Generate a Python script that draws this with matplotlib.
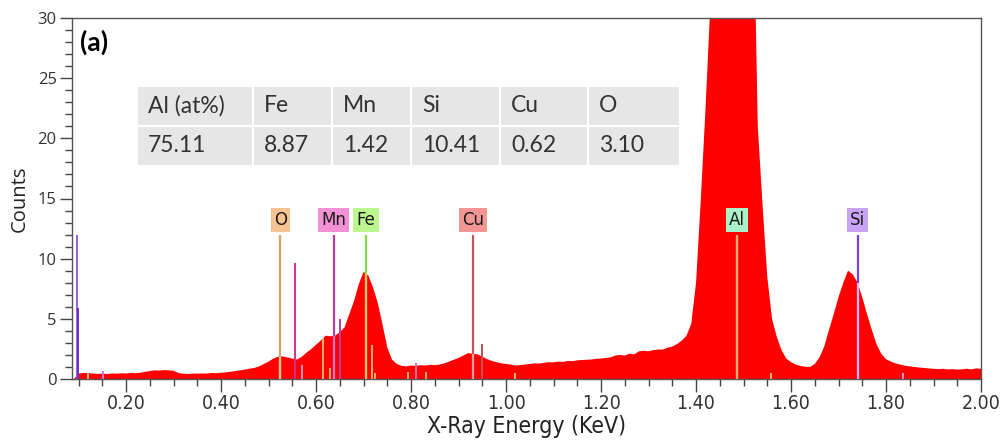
import numpy as np
import matplotlib
matplotlib.use("Agg")
import matplotlib.pyplot as plt
from matplotlib import font_manager
from matplotlib.patches import Rectangle
from matplotlib.ticker import MultipleLocator, FormatStrFormatter

# EDS spectrum, 0.01 keV channels from 0.08 to 2.00 keV
e_start, e_step = 0.08, 0.01
counts = [
    0, 0,
    0.45, 0.5, 0.5, 0.45, 0.42, 0.45, 0.42, 0.46, 0.44, 0.48,
    0.46, 0.5, 0.48, 0.52, 0.6, 0.66, 0.72, 0.7, 0.74, 0.72,
    0.68, 0.5, 0.44, 0.42, 0.45, 0.44, 0.46, 0.45, 0.5, 0.48,
    0.52, 0.55, 0.6, 0.66, 0.72, 0.78, 0.86, 0.92, 1.05, 1.25,
    1.45, 1.7, 1.85, 1.88, 1.78, 1.7, 1.62, 1.85, 2.2, 2.5,
    2.85, 3.2, 3.6, 3.55, 3.6, 3.9, 4.3, 5.4, 6.5, 7.9,
    8.9, 8.6, 7.6, 6.3, 4.5, 2.6, 1.6, 1.25, 1.1, 1.05,
    1.12, 1.1, 1.15, 1.12, 1.18, 1.15, 1.2, 1.3, 1.45, 1.6,
    1.75, 1.95, 2.15, 2.1, 2.05, 1.85, 1.65, 1.5, 1.4, 1.3,
    1.25, 1.2, 1.12, 1.15, 1.2, 1.25, 1.3, 1.28, 1.35, 1.4,
    1.38, 1.45, 1.42, 1.5, 1.48, 1.55, 1.58, 1.6, 1.62, 1.68,
    1.7, 1.75, 1.8, 1.95, 2.0, 1.95, 2.1, 2.05, 2.3, 2.35,
    2.3, 2.4, 2.45, 2.45, 2.6, 2.7, 2.9, 3.2, 3.6, 4.6,
    8.0, 14.9, 22.5, 31, 45, 60, 72, 80, 84, 84,
    80, 68, 42, 21, 14.5, 8.5, 5.0, 3.5, 2.4, 1.7,
    1.4, 1.2, 1.08, 1.02, 1.0, 1.25, 1.8, 2.7, 4.1, 5.4,
    6.8, 8.0, 9.0, 8.7, 8.0, 6.8, 5.4, 4.1, 2.9, 2.1,
    1.65, 1.45, 1.3, 1.2, 1.1, 1.05, 1.0, 0.95, 0.92, 0.88,
    0.85, 0.82, 0.85, 0.8, 0.82, 0.78, 0.8, 0.85, 0.8, 0.88, 0.85,
]
energy = np.round(e_start + e_step * np.arange(len(counts)), 2)

# labelled element lines
el_names = ["O", "Mn", "Fe", "Cu", "Al", "Si"]
el_energy = [0.525, 0.637, 0.705, 0.930, 1.486, 1.740]
el_line = ["#d9a066", "#b0409e", "#86d84a", "#c05a5a", "#d4a060", "#7b3fe0"]
el_inner = ["#f3c894", "#e070c0", "#f2c070", "#f0a0a0", "#e8b070", "#f4b8f0"]
el_box = ["#f7c391", "#f291d3", "#bdf58f", "#f29595", "#a9f1c9", "#c9a3f5"]
el_height = 12.0

# minor (unlabelled) lines: energy, height, colour
minor_energy = [0.096, 0.098, 0.119, 0.152, 0.556, 0.570, 0.615, 0.629, 0.650,
                0.718, 0.724, 0.794, 0.811, 0.831, 0.950, 1.019, 1.557, 1.836]
minor_height = [12.0, 5.9, 0.5, 0.7, 9.6, 1.2, 3.4, 0.9, 5.0,
                2.8, 0.5, 0.6, 1.35, 0.6, 2.9, 0.5, 0.5, 0.5]
minor_color = ["#9a60d8", "#7030c0", "#e8b070", "#c080e0", "#d0308a", "#f090c0",
               "#f0b060", "#f0b060", "#b040a0", "#f0b060", "#f0b060", "#f0b060",
               "#e070a0", "#f0b060", "#c05050", "#f0b060", "#f0b060", "#e090e0"]

# composition table
tbl_head = ["Al (at%)", "Fe", "Mn", "Si", "Cu", "O"]
tbl_vals = ["75.11", "8.87", "1.42", "10.41", "0.62", "3.10"]

installed = {f.name for f in font_manager.fontManager.ttflist}
narrow = "Liberation Sans Narrow" if "Liberation Sans Narrow" in installed else "DejaVu Sans"
plt.rcParams["font.family"] = ["Open Sans", "DejaVu Sans"]

W, H = 1005, 441
fig = plt.figure(figsize=(W / 100, H / 100), dpi=100)
ax = fig.add_axes([72 / W, 62 / H, 909 / W, 361 / H])

ax.fill_between(energy, counts, color="#ff0000", lw=0, zorder=2)

for x, h, c in zip(minor_energy, minor_height, minor_color):
    ax.plot([x, x], [0, h], color=c, lw=1.4, zorder=3, solid_capstyle="butt")

for name, x, lc, ic, bc in zip(el_names, el_energy, el_line, el_inner, el_box):
    top = np.interp(x, energy, counts)
    ax.plot([x, x], [0, el_height], color=lc, lw=1.6, zorder=3, solid_capstyle="butt")
    ax.plot([x, x], [0, min(top, el_height)], color=ic, lw=1.6, zorder=3,
            solid_capstyle="butt")
    ax.text(x, el_height + 1.2, name, ha="center", va="center", fontsize=12,
            family="DejaVu Sans", color="#1a1a1a", zorder=5,
            bbox=dict(boxstyle="square,pad=0.2", fc=bc, ec="none"))

ax.set_xlim(0.086, 2.0)
ax.set_ylim(0, 30)
ax.xaxis.set_major_locator(MultipleLocator(0.2))
ax.xaxis.set_minor_locator(MultipleLocator(0.05))
ax.xaxis.set_major_formatter(FormatStrFormatter("%.2f"))
ax.yaxis.set_major_locator(MultipleLocator(5))
ax.yaxis.set_minor_locator(MultipleLocator(1))
ax.tick_params(which="major", length=9, width=1, color="#444444")
ax.tick_params(which="minor", length=5, width=1, color="#444444")
ax.tick_params(axis="y", labelsize=12, colors="#444444", labelcolor="#333333", pad=2)
ax.tick_params(axis="x", labelsize=14, colors="#444444", labelcolor="#333333", pad=2)
for lab in ax.get_xticklabels():
    lab.set_family(narrow)
    lab.set_stretch("condensed")
for s in ax.spines.values():
    s.set_color("#555555")
    s.set_linewidth(1)

ax.set_ylabel("Counts", fontsize=14.5, color="#222222", labelpad=6)
ax.set_xlabel("X-Ray Energy (KeV)", fontsize=16.5, family=narrow, stretch="condensed",
              color="#222222", labelpad=1)

ax.text(80 / W, 1 - 42 / H, "(a)", transform=fig.transFigure, fontsize=19,
        fontweight="bold", family="Lato", va="center", ha="left")

# composition table drawn in figure pixels
col_edges = [137, 253, 332, 411, 500, 588, 680]
row_edges = [86, 126, 166]
for r, row in enumerate([tbl_head, tbl_vals]):
    y0, y1 = row_edges[r], row_edges[r + 1]
    for c, txt in enumerate(row):
        x0, x1 = col_edges[c], col_edges[c + 1]
        fig.add_artist(Rectangle((x0 / W, 1 - y1 / H), (x1 - x0) / W, (y1 - y0) / H,
                                 transform=fig.transFigure, fc="#e6e6e6",
                                 ec="white", lw=1.5))
        fig.text((x0 + 11) / W, 1 - (y0 + y1) / 2 / H, txt, fontsize=16.5,
                 family="Lato", color="#333333", va="center", ha="left")

fig.savefig("out.png", dpi=100)
